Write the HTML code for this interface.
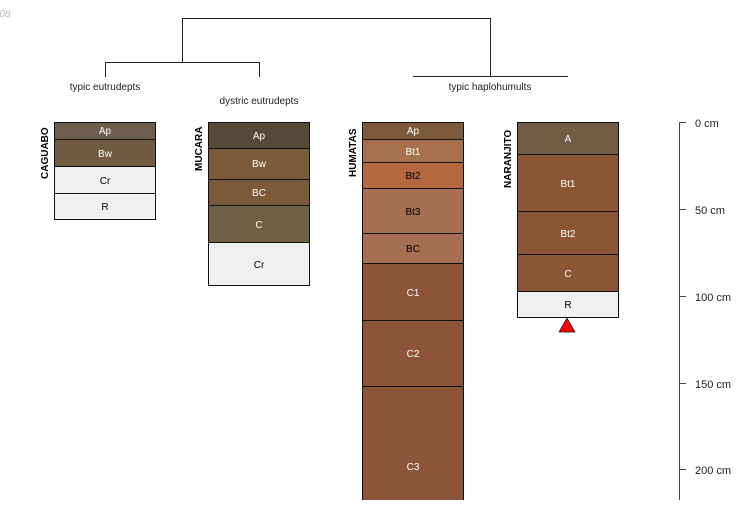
<!DOCTYPE html>
<html><head><meta charset="utf-8"><style>
body{margin:0;background:#fff;width:750px;height:500px;overflow:hidden}
text{font-family:"Liberation Sans",sans-serif}
</style></head><body>
<svg width="750" height="500" xmlns="http://www.w3.org/2000/svg">
<text x="-4" y="17" font-size="10" font-style="italic" fill="#bbb">-08</text>
<g stroke="#222" fill="none" stroke-width="1">
<path d="M182.5 62V18.5H490.5V76"/>
<path d="M105.5 77V62.5H259.5V77"/>
<path d="M413 76.5H568"/>
</g>
<g font-size="10" text-anchor="middle" fill="#222">
<text x="105" y="90">typic eutrudepts</text>
<text x="259" y="104">dystric eutrudepts</text>
<text x="490" y="90">typic haplohumults</text>
</g>
<g stroke="#111" stroke-width="1">
<!-- Caguabo -->
<rect x="54.5" y="122.5" width="101" height="17" fill="#6f5e4d"/>
<rect x="54.5" y="139.5" width="101" height="27" fill="#705a42"/>
<rect x="54.5" y="166.5" width="101" height="27" fill="#f0f0f0"/>
<rect x="54.5" y="193.5" width="101" height="26" fill="#f0f0f0"/>
<!-- Mucara -->
<rect x="208.5" y="122.5" width="101" height="26" fill="#574838"/>
<rect x="208.5" y="148.5" width="101" height="31" fill="#7a5a38"/>
<rect x="208.5" y="179.5" width="101" height="26" fill="#7a5a38"/>
<rect x="208.5" y="205.5" width="101" height="37" fill="#706044"/>
<rect x="208.5" y="242.5" width="101" height="43" fill="#f0f0f0"/>
<!-- Humatas -->
<rect x="362.5" y="122.5" width="101" height="17" fill="#7e5a3c"/>
<rect x="362.5" y="139.5" width="101" height="23" fill="#a6714c"/>
<rect x="362.5" y="162.5" width="101" height="26" fill="#b5673f"/>
<rect x="362.5" y="188.5" width="101" height="45" fill="#a66e52"/>
<rect x="362.5" y="233.5" width="101" height="30" fill="#a66e52"/>
<rect x="362.5" y="263.5" width="101" height="57" fill="#8c5439"/>
<rect x="362.5" y="320.5" width="101" height="66" fill="#8c5439"/>
<rect x="362.5" y="386.5" width="101" height="130" fill="#8c5439"/>
<!-- Naranjito -->
<rect x="517.5" y="122.5" width="101" height="32" fill="#735c43"/>
<rect x="517.5" y="154.5" width="101" height="57" fill="#8a5634"/>
<rect x="517.5" y="211.5" width="101" height="43" fill="#8a5634"/>
<rect x="517.5" y="254.5" width="101" height="37" fill="#8a5634"/>
<rect x="517.5" y="291.5" width="101" height="26" fill="#f0f0f0"/>
</g>
<polygon points="567,318 575,332 559,332" fill="#f00" stroke="#111" stroke-width="0.7"/>
<g font-size="10" text-anchor="middle">
<text x="105" y="134" fill="#fff">Ap</text>
<text x="105" y="157" fill="#fff">Bw</text>
<text x="105" y="184" fill="#000">Cr</text>
<text x="105" y="210" fill="#000">R</text>
<text x="259" y="139" fill="#fff">Ap</text>
<text x="259" y="167" fill="#fff">Bw</text>
<text x="259" y="196" fill="#fff">BC</text>
<text x="259" y="228" fill="#fff">C</text>
<text x="259" y="268" fill="#000">Cr</text>
<text x="413" y="134" fill="#fff">Ap</text>
<text x="413" y="155" fill="#fff">Bt1</text>
<text x="413" y="179" fill="#000">Bt2</text>
<text x="413" y="215" fill="#000">Bt3</text>
<text x="413" y="252" fill="#000">BC</text>
<text x="413" y="296" fill="#fff">C1</text>
<text x="413" y="357" fill="#fff">C2</text>
<text x="413" y="470" fill="#fff">C3</text>
<text x="568" y="142" fill="#fff">A</text>
<text x="568" y="187" fill="#fff">Bt1</text>
<text x="568" y="237" fill="#fff">Bt2</text>
<text x="568" y="277" fill="#fff">C</text>
<text x="568" y="308" fill="#000">R</text>
</g>
<g font-size="10" font-weight="bold" fill="#000">
<text transform="translate(48,179) rotate(-90)">CAGUABO</text>
<text transform="translate(202,171) rotate(-90)">MUCARA</text>
<text transform="translate(356,177) rotate(-90)">HUMATAS</text>
<text transform="translate(511,188) rotate(-90)">NARANJITO</text>
</g>
<g stroke="#444" stroke-width="1">
<path d="M679.5 122V500"/>
<path d="M679 122.5H686M679 209.5H686M679 296.5H686M679 383.5H686M679 469.5H686"/>
</g>
<g font-size="11" fill="#222">
<text x="695" y="127">0 cm</text>
<text x="695" y="214">50 cm</text>
<text x="695" y="301">100 cm</text>
<text x="695" y="388">150 cm</text>
<text x="695" y="474">200 cm</text>
</g>
</svg>
</body></html>
